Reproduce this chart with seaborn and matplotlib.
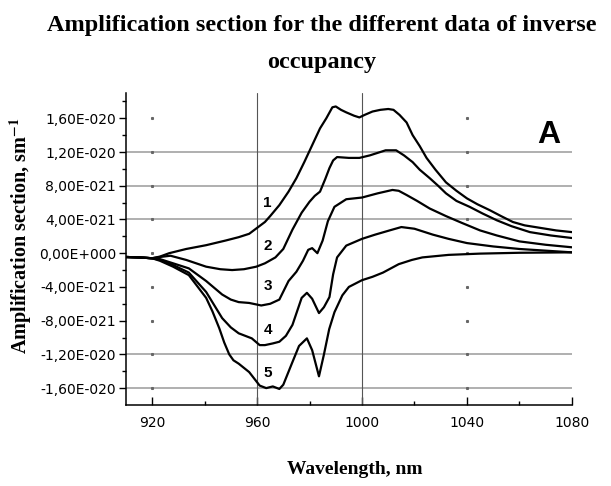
import numpy as np
import pandas as pd
import matplotlib
matplotlib.use("Agg")
import matplotlib.pyplot as plt
from matplotlib.ticker import FuncFormatter, FixedLocator
import seaborn as sns

# ── Data (values in units of 1e-21) ──────────────────────────────────────────
WL1 = [910, 915, 920, 923, 926.5, 933, 940.6, 948, 953, 957, 960, 963, 965, 968.5,
       972, 975, 978, 981, 984, 986.4, 988.7, 990, 992, 994, 997, 999, 1001, 1004,
       1007, 1010, 1012, 1014.3, 1017, 1019.3, 1022, 1024.6, 1028, 1032, 1036, 1040,
       1044, 1048.7, 1053, 1057.5, 1062, 1068, 1074, 1080]
AS1 = [-0.45, -0.5, -0.6, -0.4, 0.0, 0.5, 0.95, 1.5, 1.9, 2.3, 3.0, 3.7, 4.4, 5.7,
       7.3, 8.9, 10.8, 12.8, 14.8, 16.0, 17.3, 17.4, 17.0, 16.7, 16.3, 16.1, 16.4, 16.8,
       17.0, 17.1, 17.0, 16.4, 15.5, 14.0, 12.7, 11.3, 9.9, 8.4, 7.4, 6.5,
       5.8, 5.1, 4.4, 3.7, 3.3, 3.0, 2.7, 2.5]

WL2 = [910, 915, 920, 923, 927, 933, 940.6, 946, 950.5, 955, 959.7, 963, 967, 970,
       973.5, 977, 980, 982, 984, 986, 987.6, 989, 990.5, 995, 999, 1003, 1009, 1013,
       1016, 1019.3, 1022, 1025.8, 1029, 1032, 1036, 1041, 1046, 1051.4, 1057, 1064,
       1072, 1080]
AS2 = [-0.45, -0.5, -0.6, -0.45, -0.3, -0.8, -1.6, -1.9, -2.0, -1.9, -1.6, -1.2, -0.5, 0.5,
       2.8, 4.8, 6.1, 6.8, 7.3, 8.8, 10.1, 11.0, 11.4, 11.3, 11.3, 11.6, 12.2, 12.2,
       11.6, 10.8, 9.9, 8.9, 8.0, 7.1, 6.2, 5.5, 4.7, 3.9, 3.2, 2.5,
       2.1, 1.8]

WL3 = [910, 915, 920, 923, 927, 934, 940.6, 946.7, 950, 953, 957, 961.6, 965, 968.5,
       972, 975, 977.5, 979.5, 981, 983, 985, 987, 989.5, 994, 1000, 1006, 1011.6,
       1014, 1017, 1021, 1025.8, 1032, 1038, 1045, 1051.4, 1060, 1070, 1080]
AS3 = [-0.45, -0.5, -0.6, -0.7, -1.1, -1.8, -3.3, -4.9, -5.5, -5.8, -5.9, -6.2, -6.0, -5.5,
       -3.3, -2.2, -0.9, 0.4, 0.6, 0.0, 1.5, 3.8, 5.5, 6.4, 6.6, 7.1, 7.5,
       7.4, 6.9, 6.2, 5.3, 4.4, 3.6, 2.7, 2.1, 1.4, 1.0, 0.7]

WL4 = [910, 915, 920, 923, 928, 934, 940.6, 946.7, 950, 953, 958, 961, 963, 966,
       968.5, 971, 973.5, 977, 979, 981, 983.6, 985.5, 987.6, 989, 990.5, 994, 1000,
       1005, 1010.5, 1015, 1020, 1027, 1033, 1040, 1050, 1060, 1070, 1080]
AS4 = [-0.45, -0.5, -0.6, -0.8, -1.4, -2.3, -4.6, -7.7, -8.8, -9.5, -10.1, -10.9, -10.9, -10.7,
       -10.5, -9.8, -8.5, -5.3, -4.7, -5.4, -7.1, -6.4, -5.2, -2.5, -0.5, 0.9, 1.7,
       2.2, 2.7, 3.1, 2.9, 2.2, 1.7, 1.2, 0.8, 0.5, 0.3, 0.1]

WL5 = [910, 915, 920, 923, 928, 934, 940.6, 943, 945.6, 947.5, 949.4, 951, 953, 957,
       961, 963.5, 966, 968.5, 970, 973.5, 976, 979, 981, 983.6, 985.5, 987.5, 989.5,
       992.5, 995, 1000, 1004, 1008, 1014, 1019, 1023, 1033, 1045, 1060, 1080]
AS5 = [-0.45, -0.5, -0.6, -0.9, -1.6, -2.6, -5.3, -6.9, -8.9, -10.6, -12.0, -12.7, -13.1, -14.1,
       -15.7, -16.0, -15.8, -16.1, -15.6, -12.9, -11.0, -10.1, -11.5, -14.6, -12.0, -9.0, -7.0,
       -5.0, -4.0, -3.2, -2.8, -2.3, -1.3, -0.8, -0.5, -0.2, -0.05, 0.05, 0.1]

CURVE_NAMES = ['1', '2', '3', '4', '5']
LABEL_X = 964
LABEL_Y = [5.9, 0.9, -3.9, -9.1, -14.2]

Y_TICKS = [-16, -12, -8, -4, 0, 4, 8, 12, 16]
Y_GRID = [12, 8, 4, -12, -16]
X_TICKS = [920, 960, 1000, 1040, 1080]
X_GRID = [960, 1000]
X_DOTS = [920, 1040]

SCALE = 1e-21

# ── Style ────────────────────────────────────────────────────────────────────
sns.set_style('white')
plt.rcParams.update({
    'font.family': ['DejaVu Sans'],
    'mathtext.fontset': 'stix',
    'text.color': 'black',
    'axes.labelcolor': 'black',
    'xtick.color': 'black',
    'ytick.color': 'black',
})

frames = []
for name, wl, vals in zip(CURVE_NAMES, [WL1, WL2, WL3, WL4, WL5],
                          [AS1, AS2, AS3, AS4, AS5]):
    frames.append(pd.DataFrame({'wl': wl, 'val': np.array(vals) * SCALE, 'curve': name}))
df = pd.concat(frames, ignore_index=True)

fig = plt.figure(figsize=(6.11, 4.86), dpi=100)
ax = fig.add_axes([0.206, 0.1667, 0.730, 0.642])

# grid-like reference lines
for gy in Y_GRID:
    ax.axhline(gy * SCALE, color='#9a9a9a', lw=1.1, zorder=1)
for gx in X_GRID:
    ax.axvline(gx, color='#555555', lw=0.8, zorder=1)
for dx in X_DOTS:
    for ty in Y_TICKS:
        ax.plot(dx, ty * SCALE, marker='s', ms=1.2, color='#666666', lw=0, zorder=1)

sns.lineplot(data=df, x='wl', y='val', units='curve', estimator=None,
             color='black', lw=1.6, ax=ax, zorder=3)

for name, ly in zip(CURVE_NAMES, LABEL_Y):
    ax.text(LABEL_X, ly * SCALE, name, ha='center', va='center', color='black',
            fontsize=11, fontweight='bold', family='Liberation Sans', zorder=4)
ax.text(0.948, 0.865, 'A', transform=ax.transAxes, ha='center', va='center',
        fontsize=23, fontweight='bold', family='Liberation Sans', color='black')

ax.set_xlim(910, 1080)
ax.set_ylim(-18 * SCALE, 19 * SCALE)

ax.xaxis.set_major_locator(FixedLocator(X_TICKS))
ax.xaxis.set_minor_locator(FixedLocator([940, 980, 1020, 1060]))
ax.yaxis.set_major_locator(FixedLocator([t * SCALE for t in Y_TICKS]))
ax.yaxis.set_minor_locator(FixedLocator([(t + 2) * SCALE for t in Y_TICKS[:-1]] + [18 * SCALE]))


def sci_comma(v, pos):
    mant, exp = f"{v:.2E}".split('E')
    e = int(exp)
    return f"{mant.replace('.', ',')}E{'+' if e >= 0 else '-'}{abs(e):03d}"


ax.yaxis.set_major_formatter(FuncFormatter(sci_comma))
ax.tick_params(axis='y', which='major', direction='out', length=5, width=1,
               labelsize=10, pad=2, left=True, colors='black')
ax.tick_params(axis='y', which='minor', direction='out', length=3, width=1, left=True,
               colors='black')
ax.tick_params(axis='x', which='major', direction='in', length=6, width=1,
               labelsize=10, pad=8, bottom=True, colors='black')
ax.tick_params(axis='x', which='minor', direction='in', length=3, width=1, bottom=True,
               colors='black')

for s in ['top', 'right']:
    ax.spines[s].set_visible(False)
for s in ['left', 'bottom']:
    ax.spines[s].set_color('black')
    ax.spines[s].set_linewidth(1.1)

ax.set_xlabel('')
ax.set_ylabel('')
fig.text(0.58, 0.033, 'Wavelength, nm', ha='center', va='center', color='black',
         fontsize=14, fontweight='bold', family='Liberation Serif')
fig.text(0.034, 0.515, r'Amplification section, sm$^{\mathbf{-1}}$', rotation=90,
         ha='center', va='center', fontsize=14.5, fontweight='bold',
         family='Liberation Serif', color='black')
fig.text(0.527, 0.948, 'Amplification section for the different data of inverse',
         ha='center', va='center', fontsize=17.5, fontweight='bold',
         family='Liberation Serif', color='black')
fig.text(0.527, 0.872, 'occupancy', ha='center', va='center', color='black',
         fontsize=17.5, fontweight='bold', family='Liberation Serif')

fig.savefig('out.png', dpi=100)
